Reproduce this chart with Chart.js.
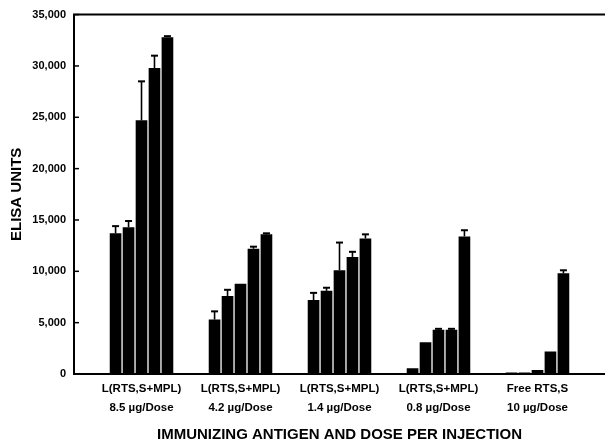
<!DOCTYPE html>
<html>
<head>
<meta charset="utf-8">
<title>ELISA units by immunizing antigen and dose</title>
<script src="https://cdn.jsdelivr.net/npm/chart.js@4/dist/chart.umd.min.js"></script>
<style>
    body { margin: 0; background: #fff; }
    canvas { display: block; }
</style>
</head>
<body>
<canvas id="chart" width="605" height="444"></canvas>
<script>
// groups on the x axis (two line labels)
var groupLabels = [
    ['L(RTS,S+MPL)', '8.5 \u00b5g/Dose'],
    ['L(RTS,S+MPL)', '4.2 \u00b5g/Dose'],
    ['L(RTS,S+MPL)', '1.4 \u00b5g/Dose'],
    ['L(RTS,S+MPL)', '0.8 \u00b5g/Dose'],
    ['Free RTS,S', '10 \u00b5g/Dose']
];

// five bars per group (ELISA units)
var bar1 = [13700, 5300, 7200, 550, 150];
var bar2 = [14300, 7600, 8100, 3100, 150];
var bar3 = [24700, 8800, 10100, 4300, 400];
var bar4 = [29800, 12200, 11400, 4300, 2200];
var bar5 = [32800, 13600, 13200, 13400, 9800];

// top of the error bars
var err1 = [14400, 6100, 7900, 550, 150];
var err2 = [14900, 8200, 8400, 3100, 150];
var err3 = [28500, 8800, 12800, 4400, 400];
var err4 = [31000, 12400, 11900, 4400, 2200];
var err5 = [32900, 13700, 13600, 14000, 10100];

var yTicks = [0, 5000, 10000, 15000, 20000, 25000, 30000, 35000];

var barSeries = [bar1, bar2, bar3, bar4, bar5];
var errSeries = [err1, err2, err3, err4, err5];

function toPoints(values) {
    return values.map(function(v, i) { return { x: i, y: v }; });
}

var datasets = barSeries.map(function(values, i) {
    return {
        label: 'Bar ' + (i + 1),
        data: toPoints(values),
        errTop: errSeries[i],
        backgroundColor: '#000',
        borderWidth: 0,
        categoryPercentage: 0.655,
        barPercentage: 0.9
    };
});

// axis frame, inward y ticks and the error bars
var framePlugin = {
    id: 'frame',
    afterDatasetsDraw: function(chart) {
        var ctx = chart.ctx;
        var area = chart.chartArea;
        var y = chart.scales.y;
        ctx.save();
        ctx.strokeStyle = '#000';

        // error bars
        chart.data.datasets.forEach(function(ds, di) {
            var meta = chart.getDatasetMeta(di);
            meta.data.forEach(function(bar, i) {
                var top = ds.errTop[i];
                if (top <= ds.data[i].y) return;
                var yTop = y.getPixelForValue(top);
                ctx.lineWidth = 1.6;
                ctx.beginPath();
                ctx.moveTo(bar.x, bar.y);
                ctx.lineTo(bar.x, yTop);
                ctx.stroke();
                ctx.lineWidth = 2;
                ctx.beginPath();
                ctx.moveTo(bar.x - 3.5, yTop);
                ctx.lineTo(bar.x + 3.5, yTop);
                ctx.stroke();
            });
        });

        // frame: left, top and bottom lines
        ctx.lineWidth = 2;
        ctx.beginPath();
        ctx.moveTo(area.right, area.top);
        ctx.lineTo(area.left, area.top);
        ctx.lineTo(area.left, area.bottom);
        ctx.lineTo(area.right, area.bottom);
        ctx.stroke();

        // ticks pointing into the plot
        ctx.lineWidth = 1.5;
        yTicks.forEach(function(v) {
            var py = y.getPixelForValue(v);
            ctx.beginPath();
            ctx.moveTo(area.left, py);
            ctx.lineTo(area.left + 5, py);
            ctx.stroke();
        });
        ctx.restore();
    }
};

var font = 'Liberation Sans, Arial, Helvetica, sans-serif';

new Chart(document.getElementById('chart').getContext('2d'), {
    type: 'bar',
    data: { datasets: datasets },
    options: {
        responsive: false,
        animation: false,
        layout: { padding: { top: 11, right: 0, bottom: 0, left: 0 } },
        plugins: {
            legend: { display: false },
            tooltip: { enabled: false }
        },
        scales: {
            x: {
                type: 'linear',
                offset: false,
                min: -0.682,
                max: 4.682,
                grid: { display: false, drawTicks: false, offset: false },
                border: { display: false },
                afterBuildTicks: function(axis) {
                    axis.ticks = groupLabels.map(function(l, i) { return { value: i }; });
                },
                afterFit: function(axis) { axis.height = 70; },
                ticks: {
                    padding: 5,
                    color: '#000',
                    maxRotation: 0,
                    autoSkip: false,
                    font: { family: font, size: 11.5, weight: 'bold', lineHeight: 1.65 },
                    callback: function(value) { return groupLabels[value]; }
                },
                title: {
                    display: true,
                    text: 'IMMUNIZING ANTIGEN AND DOSE PER INJECTION',
                    color: '#000',
                    padding: { top: 0, bottom: 0.5 },
                    font: { family: font, size: 15, weight: 'bold' }
                }
            },
            y: {
                min: 0,
                max: 35000,
                grid: { display: false, drawTicks: false },
                border: { display: false },
                afterFit: function(axis) { axis.width = 74; },
                ticks: {
                    stepSize: 5000,
                    padding: 8,
                    color: '#000',
                    font: { family: font, size: 11, weight: 'bold' },
                    callback: function(value) { return value.toLocaleString('en-US'); }
                },
                title: {
                    display: true,
                    text: 'ELISA UNITS',
                    color: '#000',
                    padding: { top: 8, bottom: 0 },
                    font: { family: font, size: 15, weight: 'bold' }
                }
            }
        }
    },
    plugins: [framePlugin]
});
</script>
</body>
</html>
